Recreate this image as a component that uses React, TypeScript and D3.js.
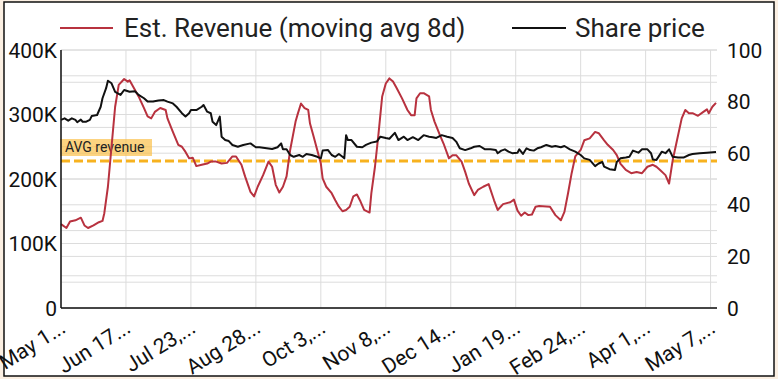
import React from "react";
import * as d3 from "d3";

// Day offsets from May 12 (first category) and values
const revenueDays = [0, 3, 5, 8, 11, 13, 15, 18, 21, 23, 24, 26, 28, 30, 32, 35, 37, 38, 40, 43, 46, 48, 50, 52, 55, 58, 59, 62, 65, 67, 69, 71, 73, 75, 78, 81, 83, 86, 89, 92, 95, 97, 100, 102, 105, 107, 109, 112, 115, 117, 119, 121, 123, 125, 127, 130, 131, 133, 135, 137, 138, 140, 142, 144, 145, 147, 150, 152, 154, 156, 158, 160, 162, 164, 166, 168, 171, 172, 174, 176, 178, 180, 182, 184, 186, 189, 192, 194, 196, 197, 199, 201, 204, 205, 207, 210, 212, 215, 217, 219, 222, 224, 226, 229, 231, 234, 237, 240, 242, 245, 249, 251, 253, 255, 257, 259, 261, 263, 265, 271, 274, 277, 279, 281, 283, 285, 288, 290, 293, 296, 298, 301, 303, 306, 308, 310, 313, 316, 319, 322, 325, 328, 330, 332, 335, 337, 339, 341, 344, 346, 348, 350, 353, 356, 358, 359, 361, 363];
const revenueK = [130, 124, 134, 136, 140, 128, 124, 128, 133, 135, 147, 188, 250, 312, 346, 355, 351, 353, 343, 328, 310, 297, 294, 304, 310, 307, 294, 273, 253, 250, 242, 232, 233, 220, 222, 224, 227, 227, 224, 225, 235, 235, 222, 204, 180, 173, 188, 206, 227, 219, 191, 179, 188, 204, 245, 289, 299, 317, 310, 307, 286, 266, 245, 224, 201, 188, 178, 167, 157, 150, 152, 157, 173, 176, 165, 152, 148, 178, 219, 271, 328, 348, 356, 351, 341, 325, 307, 299, 299, 325, 333, 333, 328, 307, 289, 268, 255, 232, 237, 237, 227, 211, 193, 175, 183, 188, 192, 167, 152, 161, 164, 168, 151, 143, 148, 144, 145, 157, 158, 157, 144, 136, 149, 178, 209, 235, 245, 260, 263, 273, 271, 260, 253, 245, 237, 224, 214, 209, 211, 209, 219, 222, 219, 214, 206, 193, 229, 255, 294, 307, 302, 302, 298, 304, 308, 302, 312, 318];

const priceDays = [0, 2, 4, 6, 8, 9, 11, 12, 14, 16, 17, 20, 22, 23, 25, 26, 28, 30, 33, 35, 38, 41, 43, 46, 48, 51, 54, 57, 59, 62, 64, 67, 69, 71, 72, 75, 78, 79, 81, 83, 84, 86, 88, 89, 91, 93, 95, 98, 101, 105, 108, 110, 114, 117, 120, 122, 123, 125, 127, 129, 132, 134, 136, 139, 142, 144, 145, 148, 150, 152, 154, 156, 157, 158, 159, 161, 164, 167, 169, 172, 175, 177, 180, 182, 185, 187, 190, 192, 195, 198, 201, 204, 206, 208, 211, 214, 217, 219, 221, 224, 227, 229, 232, 235, 238, 241, 242, 244, 246, 248, 250, 253, 254, 256, 258, 260, 262, 264, 266, 269, 272, 274, 277, 279, 282, 285, 288, 290, 293, 296, 298, 300, 301, 304, 307, 308, 310, 313, 315, 317, 320, 322, 325, 327, 328, 330, 333, 335, 337, 339, 342, 345, 348, 350, 354, 358, 363];
const priceValues = [72.9, 73.5, 72.6, 73.5, 72.9, 72, 73, 72.2, 72.2, 72.9, 74.4, 74.8, 78, 81.3, 85.2, 88.1, 87.1, 83.8, 82.6, 84.5, 83.8, 84, 82.6, 81.3, 80, 80, 80.4, 80.6, 80, 79.3, 78, 75.5, 74.2, 75.5, 76.7, 76.7, 78, 78.7, 76.1, 75.5, 72.2, 70.9, 74.2, 66.4, 65.1, 64.7, 63.2, 62.5, 63.2, 63.8, 62.3, 62.3, 61.9, 61.6, 62.3, 63.8, 61.5, 61.5, 59.3, 58.6, 59.3, 58.6, 59.7, 59.3, 58.6, 58, 61, 61.2, 59.3, 58.6, 59.7, 58.6, 58, 67, 65.1, 65.1, 62.5, 62.3, 63.2, 64.1, 64.5, 66.4, 65.9, 65.6, 67.9, 65.1, 66.4, 65.1, 66.2, 65.1, 67, 66.4, 66.2, 65.9, 67, 66.4, 65.9, 64.5, 61.9, 61.2, 61.9, 62.5, 62.8, 61.5, 61.5, 61.2, 60, 61, 61.5, 60.6, 60, 60.2, 61.5, 59.7, 61.9, 61.2, 61, 61.9, 62.3, 63.2, 62.5, 62.8, 62.3, 62.8, 61.5, 60.6, 59.3, 58, 57.4, 55, 56, 56.6, 54.8, 53.8, 53.5, 56.6, 58, 58.3, 58.6, 61, 60.2, 61.5, 61.5, 60, 57.6, 57.4, 60.6, 60, 61.5, 58.6, 58.3, 58.3, 59.3, 59.7, 60, 60.2, 60.5];

const xTickDays = [0, 36, 72, 108, 144, 180, 216, 252, 288, 324, 360];
const xTickLabels = ["May 1...", "Jun 17...", "Jul 23,...", "Aug 28...", "Oct 3,...", "Nov 8,...", "Dec 14...", "Jan 19...", "Feb 24,...", "Apr 1,...", "May 7,..."];
const leftTicks = [0, 100000, 200000, 300000, 400000];
const leftTickLabels = ["0", "100K", "200K", "300K", "400K"];
const rightTicks = [0, 20, 40, 60, 80, 100];
const avgRevenue = 228000;
const seriesNames = ["Est. Revenue (moving avg 8d)", "Share price"];

const W = 778;
const H = 379;
const FONT = "Roboto, 'Noto Sans', sans-serif";
const RED = "#b8323f";
const ORANGE = "#f7b21f";

export default function App() {
  const left = 61, right = 716, top = 50, bottom = 308;
  const x = d3.scaleLinear().domain([0, 363]).range([left, right]);
  const yL = d3.scaleLinear().domain([0, 400000]).range([bottom, top]);
  const yR = d3.scaleLinear().domain([0, 100]).range([bottom, top]);

  const revData = revenueDays.map((d, i) => [d, revenueK[i] * 1000] as [number, number]);
  const priceData = priceDays.map((d, i) => [d, priceValues[i]] as [number, number]);

  const revLine = d3.line<[number, number]>().x(d => x(d[0])).y(d => yL(d[1]));
  const priceLine = d3.line<[number, number]>().x(d => x(d[0])).y(d => yR(d[1]));

  const leftGrid = d3.range(0, 400001, 50000);
  const rightGrid = d3.range(0, 101, 10);
  const avgY = yL(avgRevenue);

  return (
    <svg width={W} height={H} style={{ position: "absolute", left: 0, top: 0, fontFamily: FONT }}>
      <rect x={0} y={0} width={W} height={H} fill="#fbefe2" />
      <rect x={4} y={2} width={770} height={374} fill="#ffffff" stroke="#111" strokeWidth={1.5} />

      {/* legend */}
      <line x1={60} x2={113} y1={28} y2={28} stroke={RED} strokeWidth={2} />
      <text x={124} y={37} fontSize={26} fill="#222">{seriesNames[0]}</text>
      <line x1={512} x2={566} y1={28} y2={28} stroke="#111" strokeWidth={2} />
      <text x={575} y={37} fontSize={26} fill="#222">{seriesNames[1]}</text>

      {/* gridlines */}
      {leftGrid.map(v => (
        <line key={"lg" + v} x1={left} x2={right + 1} y1={yL(v)} y2={yL(v)} stroke="#dcdcdc" strokeWidth={1} />
      ))}
      {rightGrid.map(v => (
        <line key={"rg" + v} x1={left} x2={right + 1} y1={yR(v)} y2={yR(v)} stroke="#dcdcdc" strokeWidth={1} />
      ))}
      {xTickDays.map(d => (
        <line key={"vg" + d} x1={x(d)} x2={x(d)} y1={top} y2={bottom} stroke="#dcdcdc" strokeWidth={1} />
      ))}

      {/* average line */}
      <line x1={left} x2={right + 1} y1={avgY} y2={avgY} stroke={ORANGE} strokeWidth={3} strokeDasharray="9,4" />
      <rect x={60} y={139} width={92} height={17} fill="#fbc04a" opacity={0.7} />
      <text x={65} y={152} fontSize={14} fill="#222">AVG revenue</text>

      {/* series */}
      <path d={revLine(revData) || ""} fill="none" stroke={RED} strokeWidth={2} strokeLinejoin="round" />
      <path d={priceLine(priceData) || ""} fill="none" stroke="#111" strokeWidth={2} strokeLinejoin="round" />

      {/* axes */}
      <line x1={left} x2={left} y1={top} y2={bottom} stroke="#111" strokeWidth={1.5} />
      <line x1={left} x2={right + 1} y1={bottom} y2={bottom} stroke="#111" strokeWidth={1.5} />

      {leftTicks.map((v, i) => (
        <text key={"lt" + v} x={57} y={yL(v)} dy="0.36em" textAnchor="end" fontSize={21} fill="#111">{leftTickLabels[i]}</text>
      ))}
      {rightTicks.map(v => (
        <text key={"rt" + v} x={727} y={yR(v)} dy="0.36em" textAnchor="start" fontSize={21} fill="#111">{String(v)}</text>
      ))}
      {xTickDays.map((d, i) => (
        <text key={"xt" + d} transform={`translate(${x(d) + 2},${bottom + 17}) rotate(-32)`} dy="0.36em" textAnchor="end" fontSize={21} fill="#111">{xTickLabels[i]}</text>
      ))}
    </svg>
  );
}
